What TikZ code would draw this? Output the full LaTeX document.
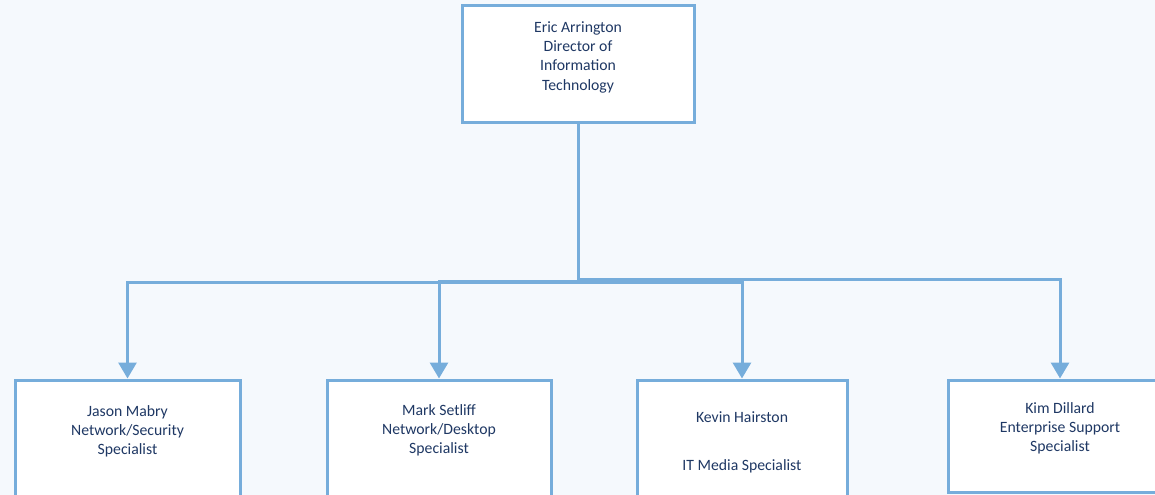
\documentclass[tikz,border=0pt]{standalone}
\usepackage{fontspec}
\setmainfont{Carlito}
\usetikzlibrary{arrows.meta}
\definecolor{boxblue}{HTML}{76ADDB}
\definecolor{navy}{HTML}{1F3864}
\definecolor{paper}{HTML}{F5F9FD}

\begin{document}
\begin{tikzpicture}[x=0.75pt, y=-0.75pt,
        box/.style={draw=boxblue, line width=2.25pt, fill=white, inner sep=0pt},
        title/.style={text=navy, align=center, anchor=north, inner sep=0pt,
            font=\fontsize{11.8}{14.4}\selectfont},
        link/.style={draw=boxblue, line width=2.25pt,
            -{Triangle[length=12pt,width=13.5pt]}}]
        \fill[paper] (0,0) rectangle (1155,495);
        \useasboundingbox (0,0) rectangle (1155,495);

        \node[box, minimum width=174pt, minimum height=87.75pt] (Eric) at (578,64.5) {};
        \node[box, minimum width=168.75pt, minimum height=97.5pt] (Jason) at (127.5,445) {};
        \node[box, minimum width=168pt, minimum height=97.5pt] (Mark) at (439,445) {};
        \node[box, minimum width=157.5pt, minimum height=97.5pt] (Kevin) at (742,445) {};
        \node[box, minimum width=168pt, minimum height=84pt] (Kim) at (1060,436) {};

        \node[title] (EricT) at (578,21.5) {Eric Arrington\\Director of\\Information\\Technology};
        \node[title] (JasonT) at (127.5,405) {Jason Mabry\\Network/Security\\Specialist};
        \node[title] (MarkT) at (439,404) {Mark Setliff\\Network/Desktop\\Specialist};
        \node[title] (KevinT) at (742,411) {Kevin Hairston\\[21.6pt]IT Media Specialist};
        \node[title] (KimT) at (1060,402) {Kim Dillard\\Enterprise Support\\Specialist};

        \draw[link] (Eric.south) -- ++(0,158) -| (Jason.north);
        \draw[link] (Eric.south) -- ++(0,157) -| (Mark.north);
        \draw[link] (Eric.south) -- ++(0,158) -| (Kevin.north);
        \draw[link] (Eric.south) -- ++(0,155) -| (Kim.north);
    \end{tikzpicture}
\end{document}
